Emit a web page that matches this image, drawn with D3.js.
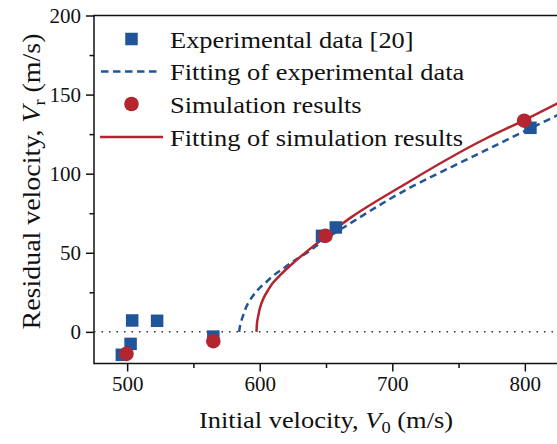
<!DOCTYPE html>
<html><head><meta charset="utf-8">
<script src="https://cdn.jsdelivr.net/npm/d3@7"></script>
<style>body{margin:0;background:#fff}svg{display:block}svg text{font-family:'Liberation Serif','Times New Roman',serif;fill:#111}</style>
</head><body>
<svg id="c" width="557" height="444"></svg>
<script>
// Data
const expV0 = [496, 502.6, 503.8, 522.6, 565, 647, 657.4, 804.2];
const expVr = [-14.5, -7.6, 7.2, 7, -3, 60.7, 66, 129];
const simV0 = [499.5, 565, 649.6, 799.5];
const simVr = [-13.9, -5.9, 60.7, 133.5];
const expFitV0 = [584.5, 585, 586, 588, 590, 593, 596.4, 600, 604, 610, 618, 625, 633, 642, 650, 670, 705.6, 771, 800, 826];
const expFitVr = [0, 3, 6.5, 11.5, 16, 20.5, 24.4, 27.8, 30.7, 35.4, 40.2, 44.4, 48.6, 53.9, 58.8, 69.5, 87.6, 115, 127, 137.5];
const simFitV0 = [597.6, 598, 599, 600, 603, 606, 610, 615, 625, 640, 650, 670, 705.6, 771, 800, 826];
const simFitVr = [0, 6, 10.5, 14.5, 21.5, 26, 31, 35.5, 43.4, 53.9, 60.5, 73, 91.4, 122.4, 134, 145];
const xTicks = [500, 600, 700, 800];
const xMinor = [550, 650, 750];
const yTicks = [0, 50, 100, 150, 200];
const yMinor = [25, 75, 125, 175];
const legendLabels = ["Experimental data [20]", "Fitting of experimental data", "Simulation results", "Fitting of simulation results"];

const FONT = "Liberation Serif";
const blue = "#21559a", red = "#b3252f";
const svg = d3.select("#c");
const x = d3.scaleLinear().domain([475, 825]).range([94, 558]);
const y = d3.scaleLinear().domain([-20, 200]).range([363.5, 15.5]);

svg.append("clipPath").attr("id","clip").append("rect").attr("x",94).attr("y",15.5).attr("width",470).attr("height",348);

svg.append("g").attr("transform","translate(0,363.5)")
  .call(d3.axisBottom(x).tickValues(xTicks).tickSize(8).tickPadding(5).tickFormat(d3.format("d")));
svg.append("g").attr("transform","translate(0,363.5)")
  .call(d3.axisBottom(x).tickValues(xMinor).tickSize(4.5).tickFormat(""));
svg.append("g").attr("transform","translate(94,0)")
  .call(d3.axisLeft(y).tickValues(yTicks).tickSize(8).tickPadding(5).tickFormat(d3.format("d")));
svg.append("g").attr("transform","translate(94,0)")
  .call(d3.axisLeft(y).tickValues(yMinor).tickSize(4.5).tickFormat(""));
svg.selectAll("g").attr("font-family", FONT);
svg.selectAll(".tick line").attr("stroke","#111").attr("stroke-width",1.5);
svg.selectAll(".tick text").attr("font-size",21).attr("fill","#111");
svg.selectAll(".domain").remove();
svg.append("line").attr("x1",94).attr("x2",557).attr("y1",363.5).attr("y2",363.5).attr("stroke","#111").attr("stroke-width",1.5);
svg.append("line").attr("x1",94).attr("x2",94).attr("y1",15.5).attr("y2",364.2).attr("stroke","#111").attr("stroke-width",1.5);
svg.append("line").attr("x1",93.3).attr("x2",557).attr("y1",15.5).attr("y2",15.5).attr("stroke","#111").attr("stroke-width",1.5);

const plot = svg.append("g").attr("clip-path","url(#clip)");
plot.append("line").attr("x1",x(475)).attr("x2",x(830)).attr("y1",y(0)).attr("y2",y(0))
  .attr("stroke","#333").attr("stroke-width",1.5).attr("stroke-dasharray","1.5,6");

const line = d3.line().x(d=>x(d[0])).y(d=>y(d[1])).curve(d3.curveMonotoneY);
plot.append("path").datum(expFitV0.map((v,i)=>[v,expFitVr[i]])).attr("d",line)
  .attr("fill","none").attr("stroke",blue).attr("stroke-width",2.5).attr("stroke-dasharray","7,4.5");
plot.append("path").datum(simFitV0.map((v,i)=>[v,simFitVr[i]])).attr("d",line)
  .attr("fill","none").attr("stroke",red).attr("stroke-width",2.5);

const sq = 12.5;
plot.selectAll("rect.exp").data(expV0.map((v,i)=>[v,expVr[i]])).join("rect").attr("class","exp")
  .attr("x",d=>x(d[0])-sq/2).attr("y",d=>y(d[1])-sq/2).attr("width",sq).attr("height",sq).attr("fill",blue);
plot.selectAll("circle.sim").data(simV0.map((v,i)=>[v,simVr[i]])).join("circle").attr("class","sim")
  .attr("cx",d=>x(d[0])).attr("cy",d=>y(d[1])).attr("r",7.3).attr("fill",red);

const lg = svg.append("g");
const rows = [39, 71.5, 104, 137];
lg.append("rect").attr("x",131.5-sq/2).attr("y",rows[0]-sq/2).attr("width",sq).attr("height",sq).attr("fill",blue);
lg.append("line").attr("x1",101).attr("x2",160).attr("y1",rows[1]).attr("y2",rows[1]).attr("stroke",blue).attr("stroke-width",2.5).attr("stroke-dasharray","7.5,4.5");
lg.append("circle").attr("cx",131.5).attr("cy",rows[2]).attr("r",7.3).attr("fill",red);
lg.append("line").attr("x1",100).attr("x2",163).attr("y1",rows[3]).attr("y2",rows[3]).attr("stroke",red).attr("stroke-width",2.5);
lg.selectAll("g.item").data(legendLabels).join("g").attr("class","item")
  .attr("transform",(d,i)=>`translate(170,${rows[i]+8.5}) scale(1.15,1)`)
  .append("text").attr("font-family",FONT).attr("font-size",23).text(d=>d);

const xg = svg.append("g").attr("transform","translate(326,428) scale(1.15,1)");
const xt = xg.append("text").attr("text-anchor","middle").attr("font-family",FONT).attr("font-size",23);
xt.append("tspan").text("Initial velocity, ");
xt.append("tspan").attr("font-style","italic").text("V");
xt.append("tspan").attr("font-size",16).attr("dy",5).text("0");
xt.append("tspan").attr("dy",-5).text(" (m/s)");

const yg = svg.append("g").attr("transform","translate(40,181.5) rotate(-90) scale(1.14,1)");
const yt = yg.append("text").attr("text-anchor","middle").attr("font-family",FONT).attr("font-size",24.5);
yt.append("tspan").text("Residual velocity, ");
yt.append("tspan").attr("font-style","italic").text("V");
yt.append("tspan").attr("font-size",16).attr("dy",5).text("r");
yt.append("tspan").attr("dy",-5).text(" (m/s)");
</script>
</body></html>
